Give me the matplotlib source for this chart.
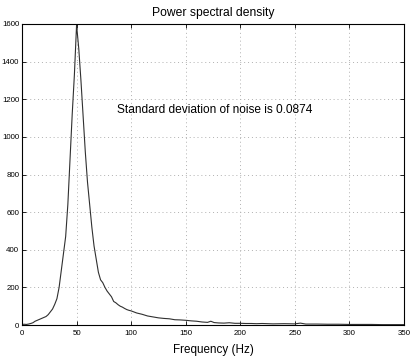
import matplotlib
matplotlib.use("Agg")
import matplotlib.pyplot as plt

plt.rcParams['font.family'] = ['Liberation Sans', 'DejaVu Sans']

freq = [0, 2, 4, 6, 8, 10, 12, 14, 16, 18, 20, 22, 24, 26, 28, 30, 32, 34, 36, 38,
        40, 42, 44, 46, 48, 50, 52, 54, 56, 58, 60, 62, 64, 66, 68, 70, 72, 74, 76, 78,
        80, 82, 84, 86, 88, 90, 92, 94, 96, 98, 100, 105, 110, 115, 120, 125, 130, 135,
        140, 145, 150, 155, 160, 165, 170, 173, 176, 180, 185, 190, 195, 200, 205, 210,
        215, 220, 230, 240, 250, 255, 260, 270, 280, 290, 300, 310, 320, 330, 340, 350]
power = [3, 4, 3, 5, 8, 12, 20, 25, 30, 35, 40, 45, 55, 70, 85, 110, 140, 200, 290, 380,
         470, 640, 880, 1120, 1330, 1595, 1470, 1300, 1110, 920, 760, 640, 520, 420, 350, 280, 240, 225, 200, 180,
         165, 150, 125, 118, 108, 100, 95, 88, 82, 78, 75, 64, 57, 48, 43, 38, 35, 33,
         28, 27, 25, 22, 20, 16, 14, 20, 13, 11, 10, 12, 9, 9, 8, 8,
         7, 8, 6, 7, 6, 10, 5, 5, 4, 4, 3, 3, 3, 2, 2, 2]

x_ticks = [0, 50, 100, 150, 200, 250, 300, 350]
y_ticks = [0, 200, 400, 600, 800, 1000, 1200, 1400, 1600]

fig = plt.figure(figsize=(4.15, 3.59), dpi=100)
ax = fig.add_axes([22/415, 1-325/359, (404-22)/415, (325-24)/359])
ax.plot(freq, power, color='#303030', lw=0.8)
ax.set_xlim(0, 350)
ax.set_ylim(0, 1600)
ax.set_xticks(x_ticks)
ax.set_yticks(y_ticks)
ax.grid(True, linestyle=(0, (1, 3)), color='#b0b0b0', lw=0.7)
ax.tick_params(direction='in', length=3, width=0.6, labelsize=5.7,
               top=True, right=True)
ax.tick_params(axis='y', pad=2)
ax.tick_params(axis='x', pad=3.5)
for s in ax.spines.values():
    s.set_linewidth(0.8)
ax.set_title('Power spectral density', fontsize=8.7, pad=0,
             y=1 + (24-13)/301, va='center')
ax.set_xlabel('Frequency (Hz)', fontsize=8.4)
ax.xaxis.set_label_coords(0.5, -(350-325)/301)
ax.xaxis.label.set_va('center')
ax.text(87.3, 1143, 'Standard deviation of noise is 0.0874', fontsize=8.6, va='center')

fig.savefig('out.png', dpi=100)
